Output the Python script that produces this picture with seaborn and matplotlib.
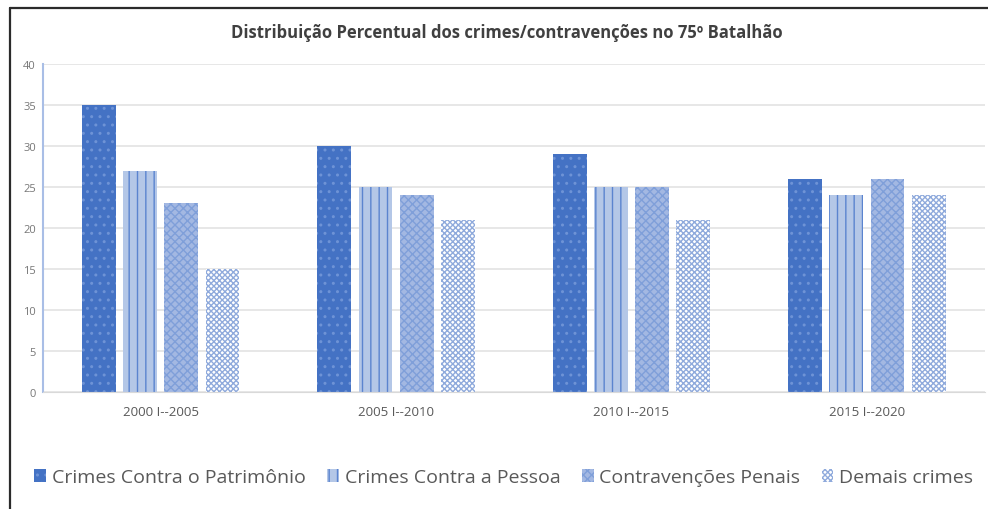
import pandas as pd
import numpy as np
import matplotlib
matplotlib.use("Agg")
import matplotlib.pyplot as plt
from matplotlib.lines import Line2D
import seaborn as sns

# donnees
periodos = ['2000 I--2005', '2005 I--2010', '2010 I--2015', '2015 I--2020']
patrimonio = [35, 30, 29, 26]
pessoa = [27, 25, 25, 24]
contravencoes = [23, 24, 25, 26]
demais = [15, 21, 21, 24]
series = ['Crimes Contra o Patrimônio', 'Crimes Contra a Pessoa',
          'Contravenções Penais', 'Demais crimes']

df = pd.DataFrame({'Periodo': periodos,
                   series[0]: patrimonio,
                   series[1]: pessoa,
                   series[2]: contravencoes,
                   series[3]: demais})
df_long = df.melt(id_vars='Periodo', var_name='Tipo', value_name='Valor')

sns.set_style('white')
plt.rcParams['font.family'] = ['Open Sans', 'DejaVu Sans']
plt.rcParams['hatch.linewidth'] = 1.0

fig = plt.figure(figsize=(9.88, 5.1), dpi=100)
ax = fig.add_axes([0.0435, 0.2294, 0.953, 0.6431])

sns.barplot(data=df_long, x='Periodo', y='Valor', hue='Tipo', order=periodos,
            hue_order=series, ax=ax, width=0.7, gap=0.18, legend=False,
            linewidth=0)

# couleurs et motifs
styles = [
    ('#4472C4', '#6E93D6', '..'),
    ('#B4C7E7', '#5B84CF', '||'),
    ('#A3B8E2', '#7F9FD9', 'xxxx'),
    ('#FFFFFF', '#8FAADC', 'xxxxxx'),
]
handles = []
for cont, (fc, hc, h) in zip(ax.containers, styles):
    for bar in cont:
        bar.set_facecolor(fc)
        bar.set_edgecolor(hc)
        bar.set_hatch(h)
        bar.set_linewidth(0)
    handles.append(plt.Rectangle((0, 0), 1, 1, facecolor=fc, edgecolor=hc,
                                 hatch=h, linewidth=0))

ax.set_ylim(0, 40)
ax.set_yticks(range(0, 41, 5))
ax.set_xlim(-0.5, 3.5)
ax.yaxis.grid(True, color='#E3E3E3', linewidth=1.2)
ax.set_axisbelow(True)
ax.set_xlabel('')
ax.set_ylabel('')
for s in ['top', 'right']:
    ax.spines[s].set_visible(False)
ax.spines['left'].set_color('#A9BEE6')
ax.spines['left'].set_linewidth(1.5)
ax.spines['bottom'].set_color('#D9D9D9')
ax.tick_params(axis='y', labelsize=8, labelcolor='#777777', length=0, pad=5)
ax.tick_params(axis='x', labelsize=9.5, labelcolor='#595959', length=0, pad=9)

fig.text(0.513, 0.935, 'Distribuição Percentual dos crimes/contravenções no 75º Batalhão',
         ha='center', va='center', fontsize=12, fontweight='bold', color='#404040')

fig.legend(handles, series, loc='center', bbox_to_anchor=(0.51, 0.062), ncol=4,
           frameon=False, fontsize=14, labelcolor='#595959', handlelength=0.6,
           handleheight=0.6, handletextpad=0.3, columnspacing=1.1)

# cadre
fig.add_artist(Line2D([10 / 988, 1], [1 - 9 / 510, 1 - 9 / 510], color='#2B2B2B',
                      linewidth=1.6, transform=fig.transFigure))
fig.add_artist(Line2D([10 / 988, 10 / 988], [0, 1 - 9 / 510], color='#2B2B2B',
                      linewidth=1.6, transform=fig.transFigure))

fig.savefig('out.png', dpi=100)
